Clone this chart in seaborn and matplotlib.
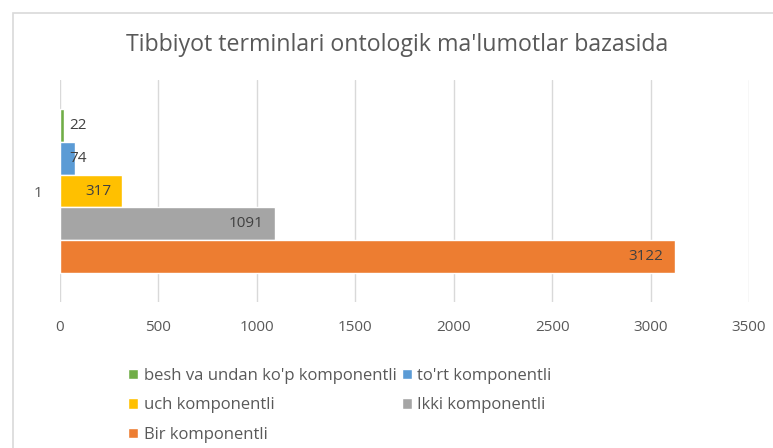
import matplotlib
matplotlib.use("Agg")
from matplotlib import pyplot as plt
from matplotlib.patches import Rectangle
import seaborn as sns
import pandas as pd

# data
category = ["1"]
series = [
    "besh va undan ko'p komponentli",
    "to'rt komponentli",
    "uch komponentli",
    "Ikki komponentli",
    "Bir komponentli",
]
values = [22, 74, 317, 1091, 3122]
colors = ["#70ad47", "#5b9bd5", "#ffc000", "#a5a5a5", "#ed7d31"]
x_ticks = [0, 500, 1000, 1500, 2000, 2500, 3000, 3500]
title = "Tibbiyot terminlari ontologik ma'lumotlar bazasida"

df = pd.DataFrame({"cat": category * len(series), "series": series, "value": values})

sns.set_theme(style="white")
plt.rcParams["font.family"] = ["Open Sans", "DejaVu Sans"]

fig = plt.figure(figsize=(7.73, 4.48), dpi=100)
ax = fig.add_axes([60 / 773, 1 - 302 / 448, (749 - 60) / 773, (302 - 80) / 448])

sns.barplot(data=df, y="cat", x="value", hue="series", hue_order=series,
            palette=colors, orient="h", width=0.74, saturation=1,
            ax=ax, legend=True)

ax.set_xlim(0, 3500)
ax.set_ylim(0.5, -0.5)
ax.set_xticks(x_ticks)
ax.set_xlabel("")
ax.set_ylabel("")
ax.grid(axis="x", color="#d9d9d9", linewidth=1)
ax.grid(axis="y", visible=False)
ax.set_axisbelow(True)
for s in ax.spines.values():
    s.set_visible(False)
ax.tick_params(axis="x", length=0, pad=13, labelsize=11, colors="#595959")
ax.tick_params(axis="y", length=0, pad=13, labelsize=11, colors="#595959")

# data labels at inside end, clamped near the axis for tiny bars
px_per_unit = (749 - 60) / 3500
for cont in ax.containers:
    for bar, v in zip(cont.patches, cont.datavalues):
        yc = bar.get_y() + bar.get_height() / 2
        right = max(v * px_per_unit - 11, 27)
        ax.annotate(f"{int(v)}", xy=(0, yc), xytext=(right * 0.72, 0),
                    textcoords="offset points", ha="right", va="center",
                    fontsize=11, color="#404040")

fig.text(397 / 773, 1 - 45 / 448, title, ha="center", va="center",
         fontsize=16.7, color="#595959")

handles, labels = ax.get_legend_handles_labels()
ax.get_legend().remove()
order = [0, 2, 4, 1, 3]
fig.legend([handles[i] for i in order], [labels[i] for i in order],
           ncol=2, loc="upper left", bbox_to_anchor=(113 / 773, 1 - 353 / 448),
           frameon=False, fontsize=12, labelcolor="#595959",
           handlelength=0.6, handleheight=0.6, handletextpad=0.35,
           labelspacing=0.8, columnspacing=0.3)

fig.patches.append(Rectangle((13 / 773, -0.1), 1.2, 1 - 13 / 448 + 0.1,
                             transform=fig.transFigure, fill=False,
                             edgecolor="#d9d9d9", linewidth=1.2))

fig.savefig("out.png", dpi=100, facecolor="white")
